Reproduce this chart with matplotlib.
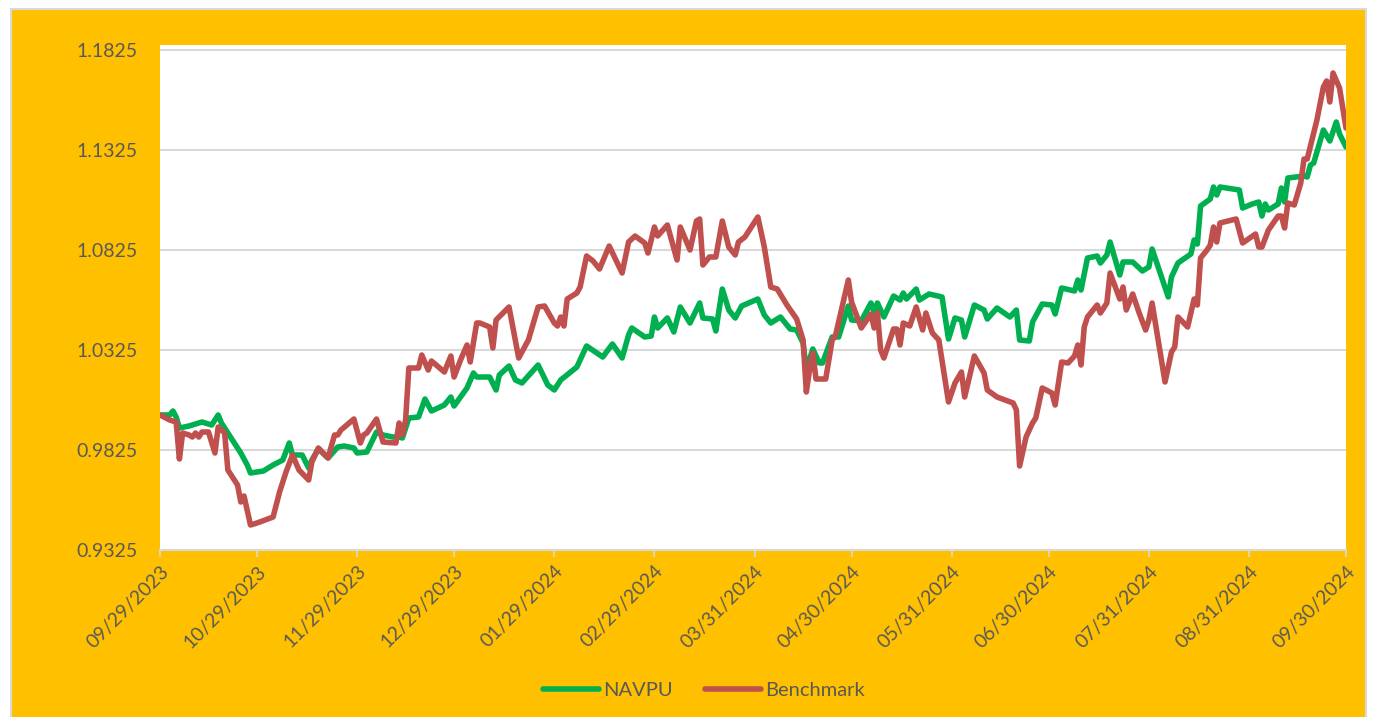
import matplotlib
matplotlib.use('Agg')
import matplotlib.pyplot as plt
from matplotlib.patches import Rectangle
import pandas as pd

# NAVPU series
nav_dates = ['2023-09-29', '2023-10-02', '2023-10-03', '2023-10-04', '2023-10-05', '2023-10-08', '2023-10-11',
             '2023-10-12', '2023-10-14', '2023-10-15', '2023-10-17', '2023-10-18', '2023-10-20', '2023-10-24',
             '2023-10-26', '2023-10-27', '2023-10-31', '2023-11-03', '2023-11-06', '2023-11-08', '2023-11-09',
             '2023-11-12', '2023-11-14', '2023-11-15', '2023-11-17', '2023-11-20', '2023-11-23', '2023-11-25',
             '2023-11-28', '2023-11-29', '2023-12-02', '2023-12-05', '2023-12-07', '2023-12-10', '2023-12-12',
             '2023-12-13', '2023-12-15', '2023-12-18', '2023-12-20', '2023-12-22', '2023-12-26', '2023-12-28',
             '2023-12-29', '2023-12-31', '2024-01-02', '2024-01-04', '2024-01-05', '2024-01-09', '2024-01-11',
             '2024-01-12', '2024-01-15', '2024-01-17', '2024-01-19', '2024-01-24', '2024-01-27', '2024-01-29',
             '2024-01-31', '2024-02-05', '2024-02-08', '2024-02-13', '2024-02-16', '2024-02-19', '2024-02-21',
             '2024-02-22', '2024-02-26', '2024-02-28', '2024-02-29', '2024-03-01', '2024-03-04', '2024-03-06',
             '2024-03-08', '2024-03-11', '2024-03-14', '2024-03-15', '2024-03-18', '2024-03-19', '2024-03-21',
             '2024-03-23', '2024-03-25', '2024-03-27', '2024-04-01', '2024-04-03', '2024-04-05', '2024-04-08',
             '2024-04-11', '2024-04-13', '2024-04-15', '2024-04-16', '2024-04-18', '2024-04-20', '2024-04-21',
             '2024-04-24', '2024-04-26', '2024-04-29', '2024-04-30', '2024-05-03', '2024-05-06', '2024-05-07',
             '2024-05-08', '2024-05-10', '2024-05-13', '2024-05-15', '2024-05-16', '2024-05-17', '2024-05-20',
             '2024-05-21', '2024-05-24', '2024-05-28', '2024-05-30', '2024-06-01', '2024-06-03', '2024-06-04',
             '2024-06-07', '2024-06-10', '2024-06-11', '2024-06-14', '2024-06-18', '2024-06-20', '2024-06-21',
             '2024-06-24', '2024-06-25', '2024-06-28', '2024-07-01', '2024-07-02', '2024-07-04', '2024-07-08',
             '2024-07-09', '2024-07-10', '2024-07-12', '2024-07-15', '2024-07-16', '2024-07-18', '2024-07-19',
             '2024-07-22', '2024-07-23', '2024-07-26', '2024-07-29', '2024-07-31', '2024-08-01', '2024-08-06',
             '2024-08-07', '2024-08-09', '2024-08-13', '2024-08-14', '2024-08-15', '2024-08-16', '2024-08-19',
             '2024-08-20', '2024-08-21', '2024-08-22', '2024-08-28', '2024-08-29', '2024-09-01', '2024-09-03',
             '2024-09-04', '2024-09-05', '2024-09-06', '2024-09-09', '2024-09-10', '2024-09-11', '2024-09-12',
             '2024-09-17', '2024-09-18', '2024-09-19', '2024-09-20', '2024-09-23', '2024-09-25', '2024-09-27',
             '2024-09-28', '2024-09-30']
nav_values = [1.0000, 1.0000, 1.0020, 0.9990, 0.9935, 0.9945, 0.9960,
              0.9965, 0.9955, 0.9950, 1.0000, 0.9960, 0.9910, 0.9810,
              0.9750, 0.9710, 0.9720, 0.9750, 0.9775, 0.9860, 0.9800,
              0.9800, 0.9735, 0.9775, 0.9830, 0.9785, 0.9840, 0.9845,
              0.9835, 0.9810, 0.9815, 0.9915, 0.9900, 0.9890, 0.9890,
              0.9885, 0.9985, 0.9990, 1.0080, 1.0020, 1.0050, 1.0090,
              1.0045, 1.0090, 1.0135, 1.0210, 1.0190, 1.0190, 1.0125,
              1.0200, 1.0245, 1.0175, 1.0160, 1.0250, 1.0150, 1.0125,
              1.0175, 1.0240, 1.0345, 1.0290, 1.0355, 1.0285, 1.0400,
              1.0435, 1.0390, 1.0395, 1.0490, 1.0435, 1.0485, 1.0415,
              1.0540, 1.0460, 1.0560, 1.0485, 1.0480, 1.0420, 1.0630,
              1.0525, 1.0485, 1.0545, 1.0580, 1.0500, 1.0460, 1.0490,
              1.0430, 1.0425, 1.0360, 1.0225, 1.0330, 1.0260, 1.0260,
              1.0390, 1.0390, 1.0545, 1.0475, 1.0470, 1.0560, 1.0515,
              1.0560, 1.0490, 1.0595, 1.0575, 1.0610, 1.0580, 1.0630,
              1.0575, 1.0605, 1.0590, 1.0380, 1.0485, 1.0475, 1.0390,
              1.0550, 1.0525, 1.0480, 1.0535, 1.0490, 1.0525, 1.0375,
              1.0370, 1.0465, 1.0555, 1.0550, 1.0505, 1.0635, 1.0620,
              1.0675, 1.0625, 1.0785, 1.0795, 1.0760, 1.0800, 1.0865,
              1.0700, 1.0765, 1.0765, 1.0720, 1.0740, 1.0830, 1.0590,
              1.0690, 1.0760, 1.0805, 1.0875, 1.0855, 1.1045, 1.1080,
              1.1140, 1.1100, 1.1140, 1.1125, 1.1035, 1.1055, 1.1065,
              1.0995, 1.1055, 1.1025, 1.1055, 1.1135, 1.1065, 1.1185,
              1.1195, 1.1190, 1.1250, 1.1260, 1.1425, 1.1370, 1.1465,
              1.1405, 1.1340]

# Benchmark series
bm_dates = ['2023-09-29', '2023-10-02', '2023-10-04', '2023-10-05', '2023-10-06', '2023-10-08', '2023-10-09',
            '2023-10-10', '2023-10-11', '2023-10-12', '2023-10-14', '2023-10-16', '2023-10-17', '2023-10-19',
            '2023-10-20', '2023-10-23', '2023-10-24', '2023-10-25', '2023-10-27', '2023-10-29', '2023-11-03',
            '2023-11-05', '2023-11-07', '2023-11-09', '2023-11-11', '2023-11-14', '2023-11-15', '2023-11-17',
            '2023-11-20', '2023-11-22', '2023-11-23', '2023-11-24', '2023-11-28', '2023-11-30', '2023-12-01',
            '2023-12-02', '2023-12-05', '2023-12-07', '2023-12-11', '2023-12-12', '2023-12-13', '2023-12-14',
            '2023-12-15', '2023-12-18', '2023-12-19', '2023-12-21', '2023-12-22', '2023-12-26', '2023-12-28',
            '2023-12-29', '2023-12-31', '2024-01-02', '2024-01-03', '2024-01-05', '2024-01-06', '2024-01-09',
            '2024-01-10', '2024-01-11', '2024-01-15', '2024-01-18', '2024-01-21', '2024-01-24', '2024-01-26',
            '2024-01-29', '2024-01-30', '2024-01-31', '2024-02-01', '2024-02-02', '2024-02-05', '2024-02-06',
            '2024-02-08', '2024-02-10', '2024-02-12', '2024-02-15', '2024-02-19', '2024-02-21', '2024-02-23',
            '2024-02-26', '2024-02-27', '2024-02-29', '2024-03-01', '2024-03-04', '2024-03-07', '2024-03-08',
            '2024-03-11', '2024-03-13', '2024-03-14', '2024-03-15', '2024-03-17', '2024-03-19', '2024-03-21',
            '2024-03-23', '2024-03-25', '2024-03-26', '2024-03-28', '2024-04-01', '2024-04-03', '2024-04-05',
            '2024-04-07', '2024-04-10', '2024-04-13', '2024-04-15', '2024-04-16', '2024-04-17', '2024-04-18',
            '2024-04-19', '2024-04-22', '2024-04-24', '2024-04-25', '2024-04-29', '2024-04-30', '2024-05-03',
            '2024-05-06', '2024-05-07', '2024-05-08', '2024-05-09', '2024-05-10', '2024-05-13', '2024-05-14',
            '2024-05-15', '2024-05-16', '2024-05-18', '2024-05-20', '2024-05-22', '2024-05-23', '2024-05-25',
            '2024-05-27', '2024-05-30', '2024-06-01', '2024-06-03', '2024-06-04', '2024-06-07', '2024-06-10',
            '2024-06-11', '2024-06-14', '2024-06-19', '2024-06-20', '2024-06-21', '2024-06-23', '2024-06-25',
            '2024-06-26', '2024-06-28', '2024-07-01', '2024-07-02', '2024-07-04', '2024-07-06', '2024-07-08',
            '2024-07-09', '2024-07-10', '2024-07-11', '2024-07-12', '2024-07-15', '2024-07-16', '2024-07-18',
            '2024-07-19', '2024-07-22', '2024-07-23', '2024-07-24', '2024-07-26', '2024-07-28', '2024-07-30',
            '2024-07-31', '2024-08-01', '2024-08-05', '2024-08-07', '2024-08-08', '2024-08-09', '2024-08-12',
            '2024-08-14', '2024-08-15', '2024-08-16', '2024-08-18', '2024-08-19', '2024-08-20', '2024-08-21',
            '2024-08-22', '2024-08-27', '2024-08-29', '2024-09-02', '2024-09-03', '2024-09-04', '2024-09-06',
            '2024-09-09', '2024-09-10', '2024-09-11', '2024-09-12', '2024-09-14', '2024-09-16', '2024-09-17',
            '2024-09-18', '2024-09-21', '2024-09-23', '2024-09-24', '2024-09-25', '2024-09-26', '2024-09-28',
            '2024-09-30']
bm_values = [1.0000, 0.9975, 0.9965, 0.9780, 0.9910, 0.9900, 0.9890,
             0.9910, 0.9890, 0.9915, 0.9915, 0.9810, 0.9940, 0.9910,
             0.9725, 0.9650, 0.9565, 0.9595, 0.9450, 0.9460, 0.9490,
             0.9615, 0.9715, 0.9800, 0.9725, 0.9675, 0.9765, 0.9835,
             0.9785, 0.9900, 0.9900, 0.9925, 0.9980, 0.9860, 0.9900,
             0.9910, 0.9980, 0.9865, 0.9860, 0.9960, 0.9900, 0.9975,
             1.0235, 1.0235, 1.0300, 1.0225, 1.0270, 1.0215, 1.0295,
             1.0190, 1.0275, 1.0350, 1.0265, 1.0460, 1.0460, 1.0440,
             1.0335, 1.0475, 1.0540, 1.0285, 1.0375, 1.0540, 1.0545,
             1.0460, 1.0445, 1.0490, 1.0445, 1.0580, 1.0610, 1.0640,
             1.0795, 1.0770, 1.0730, 1.0845, 1.0710, 1.0865, 1.0895,
             1.0860, 1.0810, 1.0940, 1.0895, 1.0950, 1.0775, 1.0940,
             1.0825, 1.0970, 1.0980, 1.0750, 1.0790, 1.0790, 1.0970,
             1.0840, 1.0800, 1.0865, 1.0890, 1.0990, 1.0840, 1.0640,
             1.0630, 1.0550, 1.0480, 1.0375, 1.0115, 1.0225, 1.0310,
             1.0180, 1.0180, 1.0375, 1.0395, 1.0675, 1.0565, 1.0435,
             1.0505, 1.0435, 1.0510, 1.0325, 1.0285, 1.0430, 1.0430,
             1.0350, 1.0460, 1.0445, 1.0540, 1.0425, 1.0510, 1.0410,
             1.0375, 1.0065, 1.0160, 1.0215, 1.0090, 1.0295, 1.0210,
             1.0125, 1.0090, 1.0060, 1.0025, 0.9745, 0.9890, 0.9960,
             0.9985, 1.0135, 1.0110, 1.0050, 1.0265, 1.0260, 1.0295,
             1.0350, 1.0250, 1.0440, 1.0490, 1.0550, 1.0510, 1.0560,
             1.0710, 1.0580, 1.0640, 1.0525, 1.0605, 1.0510, 1.0425,
             1.0475, 1.0560, 1.0165, 1.0315, 1.0340, 1.0490, 1.0440,
             1.0580, 1.0550, 1.0785, 1.0825, 1.0850, 1.0940, 1.0865,
             1.0960, 1.0980, 1.0860, 1.0905, 1.0840, 1.0840, 1.0925,
             1.0995, 1.0995, 1.0935, 1.1060, 1.1050, 1.1160, 1.1280,
             1.1280, 1.1475, 1.1640, 1.1670, 1.1565, 1.1710, 1.1635,
             1.1435]

series_names = ['NAVPU', 'Benchmark']
series_colors = ['#00B050', '#C0504D']

tick_dates = ['2023-09-29', '2023-10-29', '2023-11-29', '2023-12-29', '2024-01-29', '2024-02-29',
              '2024-03-31', '2024-04-30', '2024-05-31', '2024-06-30', '2024-07-31', '2024-08-31',
              '2024-09-30']
y_ticks = [0.9325, 0.9825, 1.0325, 1.0825, 1.1325, 1.1825]

text_color = '#595959'
grid_color = '#D9D9D9'
plt.rcParams['font.family'] = ['Lato', 'DejaVu Sans']

W, H = 1376, 717
fig = plt.figure(figsize=(W / 100, H / 100), dpi=100, facecolor='white')

# gold chart area with thin grey frame (behind the axes)
fig.patches.append(Rectangle((11 / W, -0.01), (1366 - 11) / W, 1.01 - 9 / H,
                             transform=fig.transFigure, facecolor='#FFC000',
                             edgecolor=grid_color, linewidth=1.5, zorder=-10))

ax = fig.add_axes([160 / W, 1 - 550 / H, (1346 - 160) / W, (550 - 45) / H])
ax.set_facecolor('white')

nav_x = pd.to_datetime(nav_dates)
bm_x = pd.to_datetime(bm_dates)
ax.plot(nav_x, nav_values, color=series_colors[0], linewidth=4, label=series_names[0],
        solid_joinstyle='round', solid_capstyle='round', zorder=3)
ax.plot(bm_x, bm_values, color=series_colors[1], linewidth=4, label=series_names[1],
        solid_joinstyle='round', solid_capstyle='round', zorder=4)

# axes
ticks = pd.to_datetime(tick_dates)
ax.set_xlim(ticks[0], ticks[-1])
ax.set_ylim(0.9325, 1.185)
ax.set_yticks(y_ticks)
ax.set_yticklabels([f'{v:.4f}' for v in y_ticks])
ax.set_xticks(ticks)
ax.set_xticklabels([d.strftime('%m/%d/%Y') for d in ticks], rotation=45,
                   ha='right', va='top', rotation_mode='anchor')

ax.grid(axis='y', color=grid_color, linewidth=1.5, zorder=1)
ax.set_axisbelow(True)
for side in ['top', 'right', 'left']:
    ax.spines[side].set_visible(False)
ax.spines['bottom'].set_color(grid_color)
ax.spines['bottom'].set_linewidth(1.5)
ax.tick_params(axis='y', length=0, pad=16, labelsize=14, labelcolor=text_color)
ax.tick_params(axis='x', length=5, width=1.2, color=grid_color, direction='out',
               pad=4, labelsize=14, labelcolor=text_color)

# legend at the bottom
leg = fig.legend(loc='center', bbox_to_anchor=(704 / W, 1 - 690 / H), ncol=2, frameon=False,
                 fontsize=14.5, handlelength=2.8, handletextpad=0.2, columnspacing=1.6)
for t in leg.get_texts():
    t.set_color(text_color)
for h in leg.get_lines():
    h.set_solid_capstyle('round')

fig.savefig('out.png', dpi=100, facecolor=fig.get_facecolor())
